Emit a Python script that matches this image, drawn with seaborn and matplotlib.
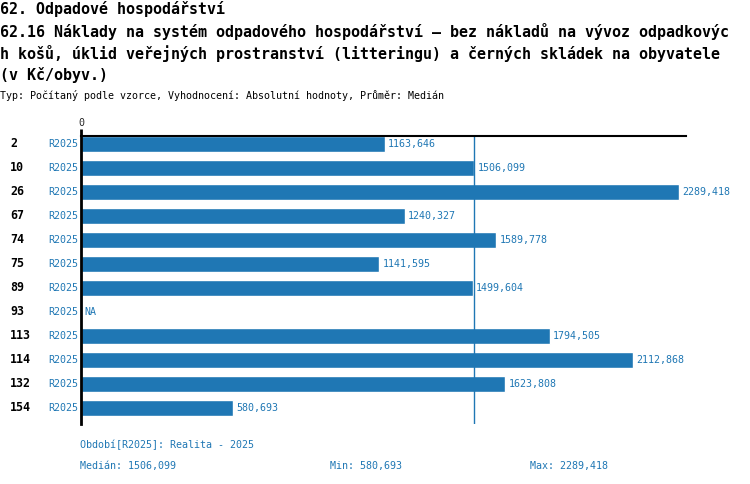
import numpy as np
import pandas as pd
import seaborn as sns
import matplotlib
matplotlib.use("Agg")
import matplotlib.pyplot as plt
import matplotlib.transforms as mtransforms

# Data
rows = ["2", "10", "26", "67", "74", "75", "89", "93", "113", "114", "132", "154"]
period = "R2025"
values = [1163.646, 1506.099, 2289.418, 1240.327, 1589.778, 1141.595,
          1499.604, np.nan, 1794.505, 2112.868, 1623.808, 580.693]
median_value = 1506.099
min_value = 580.693
max_value = 2289.418

title_lines = [
    "62. Odpadové hospodářství",
    "62.16 Náklady na systém odpadového hospodářství – bez nákladů na vývoz odpadkovýc",
    "h košů, úklid veřejných prostranství (litteringu) a černých skládek na obyvatele",
    "(v Kč/obyv.)",
]
subtitle = "Typ: Počítaný podle vzorce, Vyhodnocení: Absolutní hodnoty, Průměr: Medián"
footer_period = "Období[R2025]: Realita - 2025"

def fmt(v):
    return f"{v:.3f}".replace(".", ",")

df = pd.DataFrame({"row": rows, "value": values})

sns.set_style("white")
plt.rcParams["font.family"] = ["DejaVu Sans Mono"]

blue = "#1f77b4"
W, H = 750, 484
fig = plt.figure(figsize=(7.5, 4.84), dpi=100)
ax = fig.add_axes([81 / W, 1 - 424 / H, (686 - 81) / W, 288 / H])

sns.barplot(data=df, x="value", y="row", order=rows, orient="h",
            color=blue, saturation=1, width=0.667, ax=ax)
# bars sit at the top of each row slot
for p in ax.patches:
    p.set_y(p.get_y() + 0.0)

ax.set_xlim(0, 2316)
ax.set_ylim(11.667, -0.333)
ax.set_xlabel("")
ax.set_ylabel("")
ax.set_yticks([])
ax.xaxis.tick_top()
ax.set_xticks([0])
ax.set_xticklabels(["0"], fontsize=7.2)
ax.tick_params(axis="x", length=5, width=2, pad=1, color="black")

for s in ["right", "bottom"]:
    ax.spines[s].set_visible(False)
ax.spines["top"].set_linewidth(1.5)
ax.spines["left"].set_linewidth(2)
ax.spines["top"].set_color("black")
ax.spines["left"].set_color("black")

ax.axvline(median_value, color=blue, lw=1)

trans = mtransforms.blended_transform_factory(fig.transFigure, ax.transData)
for i, (r, v) in enumerate(zip(rows, values)):
    ax.text(10 / W, i, r, transform=trans, fontsize=8.4, fontweight="bold",
            va="center", ha="left", color="black")
    ax.text(78 / W, i, period, transform=trans, fontsize=7.2,
            va="center", ha="right", color=blue)
    if np.isnan(v):
        ax.text(12, i, "NA", fontsize=7.2, va="center", ha="left", color=blue)
    else:
        ax.text(v + 12, i, fmt(v), fontsize=7.2, va="center", ha="left", color=blue)

for k, line in enumerate(title_lines):
    fig.text(0, 1 - (9 + 22 * k) / H, line, fontsize=10.8, fontweight="bold",
             va="center", ha="left", color="black")
fig.text(0, 1 - 95 / H, subtitle, fontsize=7.2, va="center", ha="left", color="black")

fig.text(80 / W, 1 - 445 / H, footer_period, fontsize=7.2, va="center", color=blue)
fig.text(80 / W, 1 - 466 / H, "Medián: " + fmt(median_value), fontsize=7.2, va="center", color=blue)
fig.text(330 / W, 1 - 466 / H, "Min: " + fmt(min_value), fontsize=7.2, va="center", color=blue)
fig.text(530 / W, 1 - 466 / H, "Max: " + fmt(max_value), fontsize=7.2, va="center", color=blue)

fig.savefig("out.png", dpi=100)
